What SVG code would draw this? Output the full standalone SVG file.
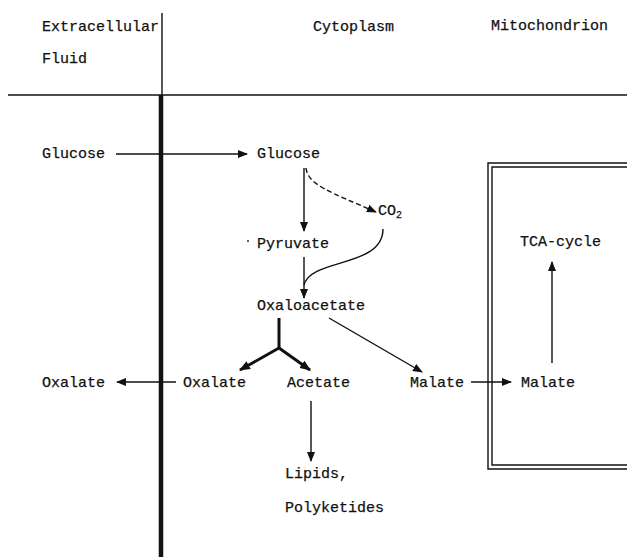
<svg xmlns="http://www.w3.org/2000/svg" width="627" height="557" viewBox="0 0 627 557">
  <defs>
    <marker id="ah" viewBox="0 0 10 8" refX="9" refY="4" markerWidth="10" markerHeight="8" markerUnits="userSpaceOnUse" orient="auto">
      <path d="M0,0 L10,4 L0,8 z" fill="#111"/>
    </marker>
    <marker id="ahb" viewBox="0 0 10 8" refX="9" refY="4" markerWidth="11" markerHeight="9" markerUnits="userSpaceOnUse" orient="auto">
      <path d="M0,0 L10,4 L0,8 z" fill="#111"/>
    </marker>
  </defs>
  <style>
    text { font-family: "Liberation Mono", "DejaVu Sans Mono", monospace; font-size: 15px; fill: #111; stroke: #111; stroke-width: 0.25; }
    .ln { stroke: #111; stroke-width: 1.4; fill: none; }
    .arr { stroke: #111; stroke-width: 1.4; fill: none; marker-end: url(#ah); }
    .thick { stroke: #111; stroke-width: 3; fill: none; }
  </style>
  <rect width="627" height="557" fill="#fff"/>

  <!-- compartments -->
  <g id="compartments">
    <line class="ln" x1="8" y1="95" x2="627" y2="95"/>
    <line class="ln" x1="162" y1="13" x2="162" y2="95"/>
    <line x1="161" y1="95" x2="161" y2="557" stroke="#111" stroke-width="4.5"/>
    <path class="ln" d="M627,163 H488 V469 H627"/>
    <path class="ln" d="M627,167 H492 V465 H627"/>
    <text x="42" y="31">Extracellular</text>
    <text x="42" y="63">Fluid</text>
    <text x="313" y="31">Cytoplasm</text>
    <text x="491" y="30">Mitochondrion</text>
  </g>

  <!-- metabolites -->
  <g id="glucose-out"><text x="42" y="158">Glucose</text></g>
  <g id="glucose-in"><text x="257" y="158">Glucose</text></g>
  <g id="co2"><text x="378" y="215">CO</text><text x="396" y="218" style="font-size:10px">2</text></g>
  <g id="pyruvate"><circle cx="248" cy="241" r="0.9" fill="#111"/><text x="257" y="248">Pyruvate</text></g>
  <g id="oxaloacetate"><text x="257" y="310">Oxaloacetate</text></g>
  <g id="oxalate-in"><text x="183" y="387">Oxalate</text></g>
  <g id="oxalate-out"><text x="42" y="387">Oxalate</text></g>
  <g id="acetate"><text x="287" y="387">Acetate</text></g>
  <g id="malate-cyt"><text x="410" y="387">Malate</text></g>
  <g id="malate-mit"><text x="521" y="387">Malate</text></g>
  <g id="tca"><text x="520" y="246">TCA-cycle</text></g>
  <g id="lipids"><text x="285" y="478">Lipids,</text><text x="285" y="512">Polyketides</text></g>

  <!-- connectors -->
  <g id="connectors">
    <line class="arr" x1="116" y1="154" x2="247" y2="154"/>
    <line class="arr" x1="304" y1="168" x2="304" y2="231"/>
    <path class="arr" d="M306,168 C308,185 330,192 376,212" stroke-dasharray="5,3"/>
    <line class="arr" x1="304" y1="257" x2="304" y2="298"/>
    <path class="ln" d="M383,229 C383,268 310,258 304,285"/>
    <line class="thick" x1="279" y1="318" x2="279" y2="348"/>
    <line class="thick" x1="279" y1="348" x2="240" y2="370" marker-end="url(#ahb)"/>
    <line class="thick" x1="279" y1="348" x2="310" y2="370" marker-end="url(#ahb)"/>
    <line class="arr" x1="329" y1="318" x2="422" y2="372"/>
    <line class="arr" x1="176" y1="382" x2="117" y2="382"/>
    <line class="arr" x1="471" y1="382" x2="511" y2="382"/>
    <line class="arr" x1="552" y1="363" x2="552" y2="262"/>
    <line class="arr" x1="311" y1="401" x2="311" y2="461"/>
  </g>
</svg>
